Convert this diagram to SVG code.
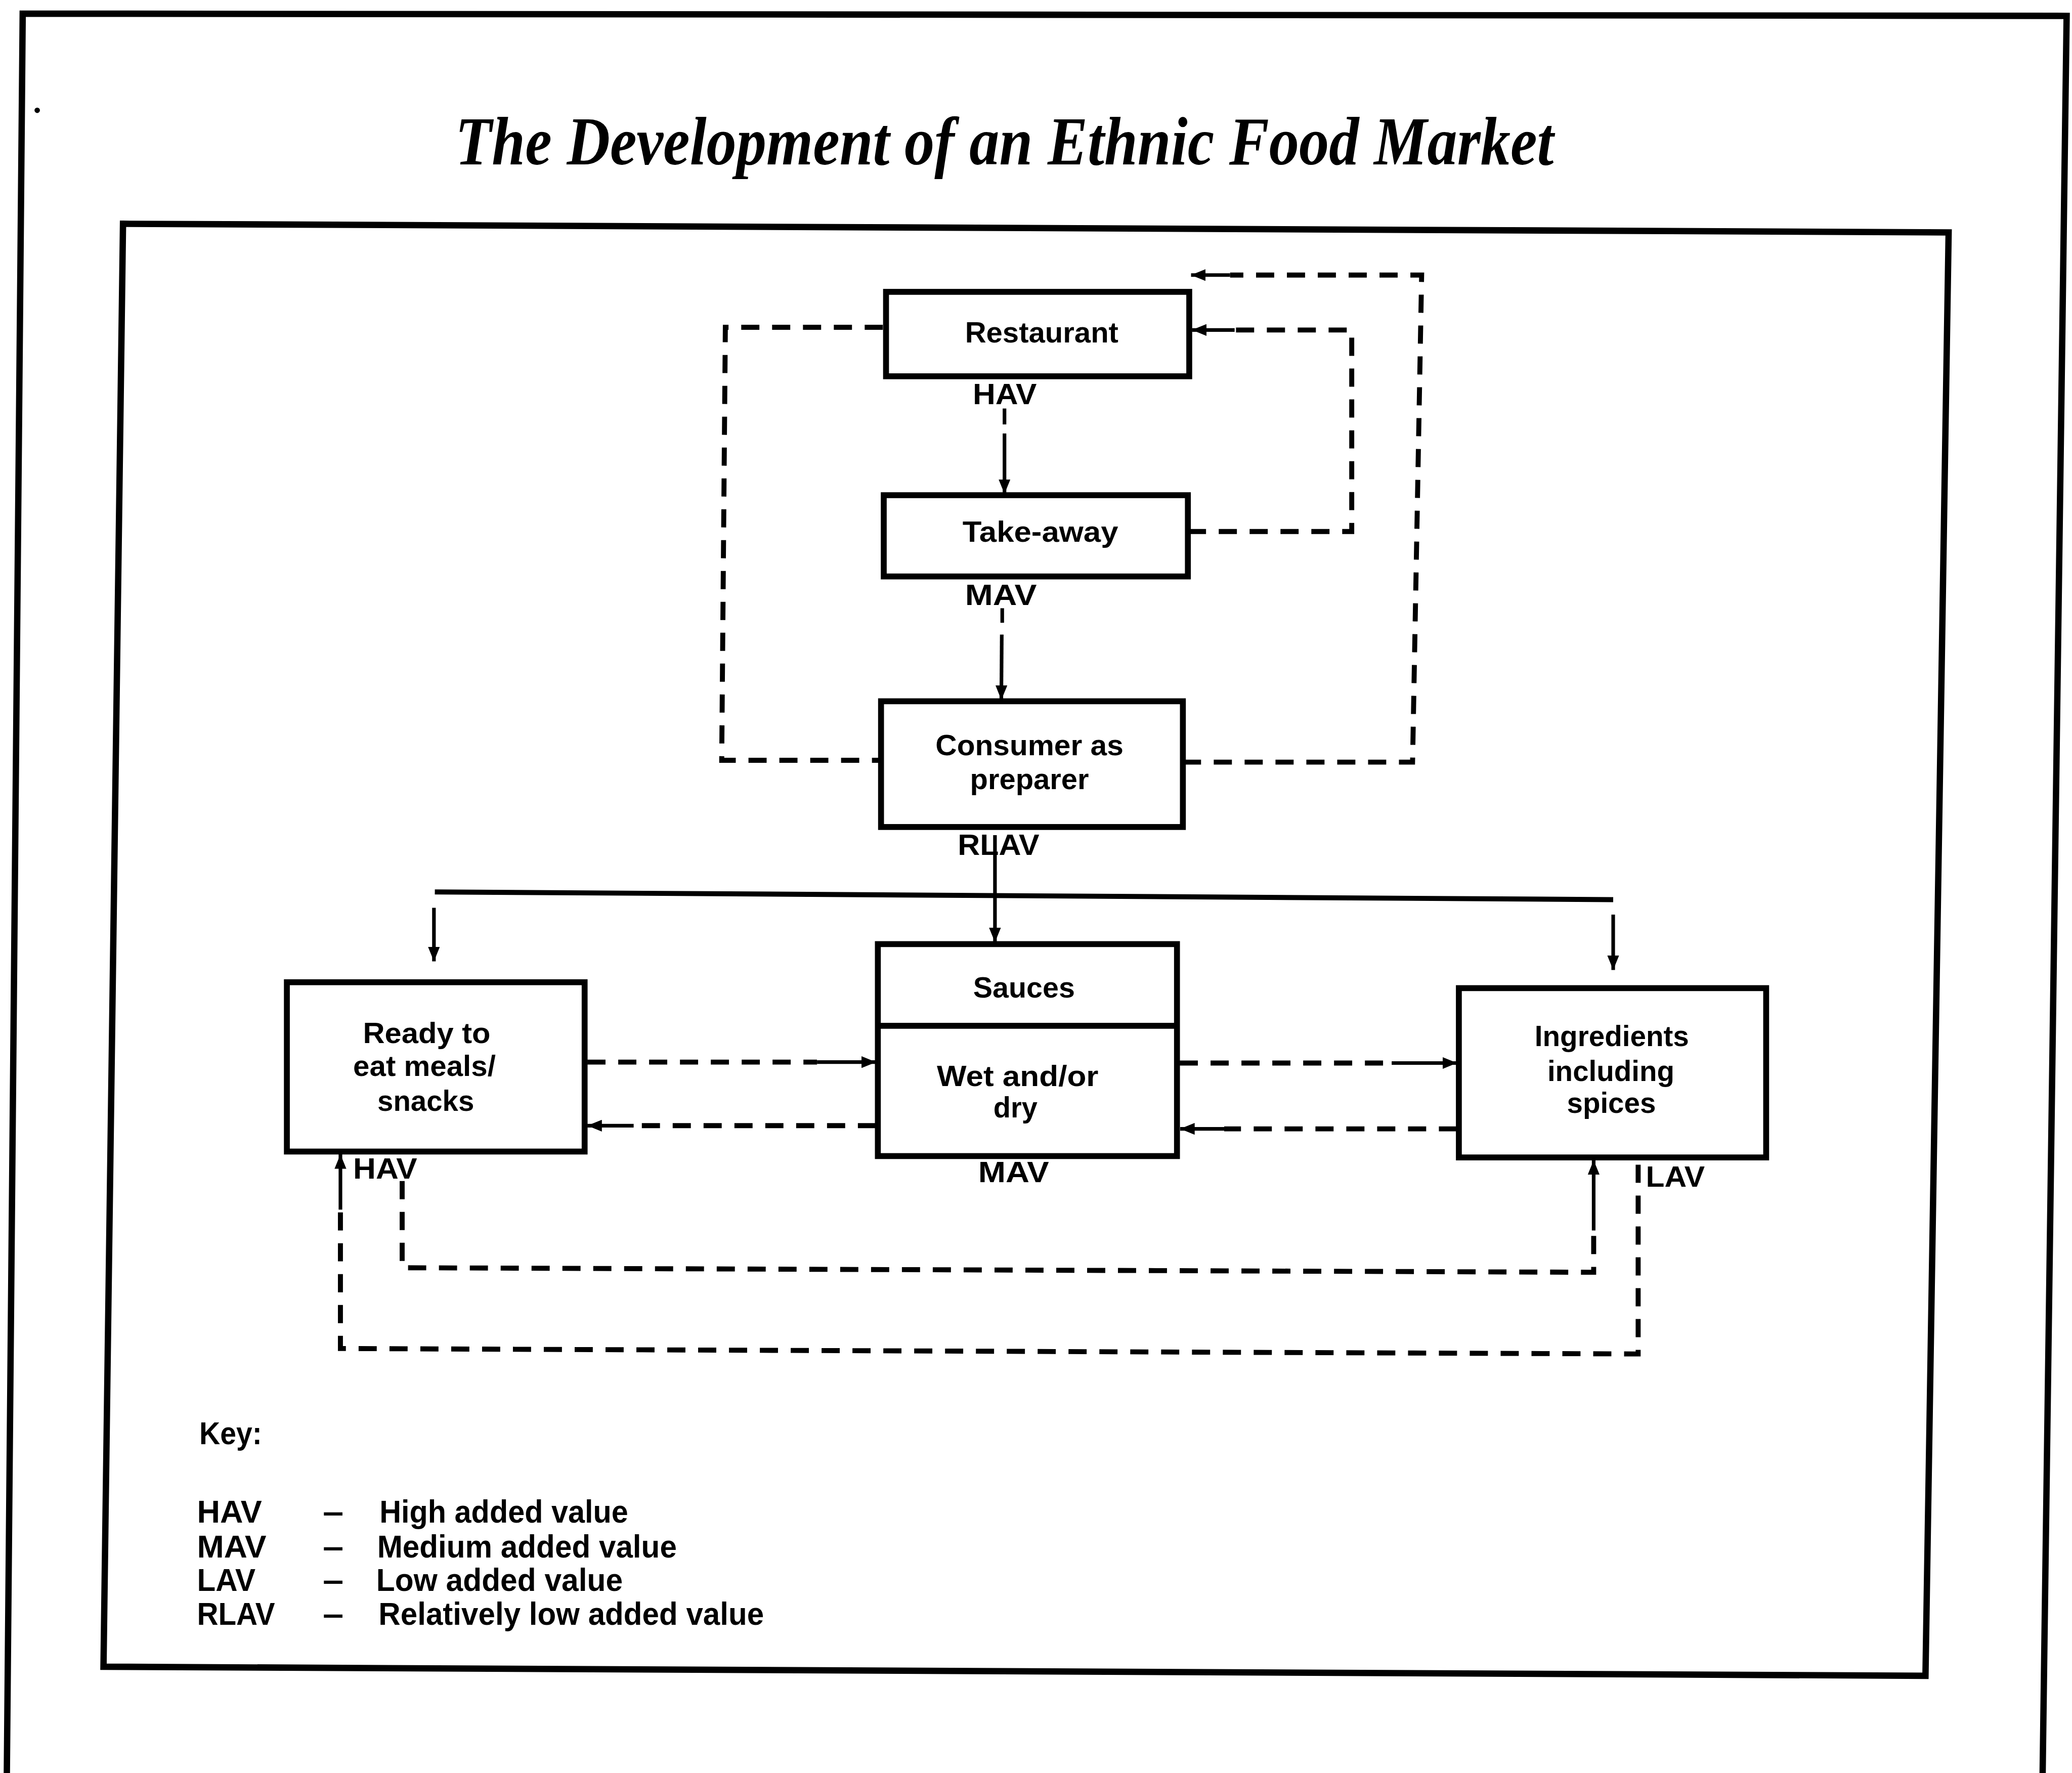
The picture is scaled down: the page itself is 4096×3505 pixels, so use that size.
<svg xmlns="http://www.w3.org/2000/svg" width="4096" height="3505" viewBox="0 0 4096 3505">
  <defs>
    <style>
      .frame { fill: none; stroke: #000; stroke-width: 14; stroke-linejoin: miter; }
      .box { fill: #fff; stroke: #000; stroke-width: 13; }
      .dash { fill: none; stroke: #000; stroke-width: 11; stroke-dasharray: 40 28; }
      .solid { fill: none; stroke: #000; stroke-width: 8; }
      .bus { fill: none; stroke: #000; stroke-width: 11; }
      .lbl { font-family: "Liberation Sans", Arial, sans-serif; font-weight: bold; font-size: 64px; fill: #000; }
      .val { font-family: "Liberation Sans", Arial, sans-serif; font-weight: bold; font-size: 64px; fill: #000; }
      .key { font-family: "Liberation Sans", Arial, sans-serif; font-weight: bold; font-size: 70px; fill: #000; }
      .title { font-family: "Liberation Serif", "Times New Roman", serif; font-style: italic; font-weight: bold; font-size: 150px; fill: #000; }
    </style>
    <marker id="arrow" markerUnits="userSpaceOnUse" markerWidth="32" markerHeight="26" viewBox="0 0 32 26" refX="32" refY="13" orient="auto">
      <path d="M0,0 L32,13 L0,26 z" fill="#000"/>
    </marker>
  </defs>
  <rect x="0" y="0" width="4096" height="3505" fill="#fff"/>
  <g transform="scale(0.8973)">
    <!-- page border (open at the bottom) and inner panel -->
    <path class="frame" d="M15,3915 L50,30 L4553,35 L4500,3915"/>
    <polygon class="frame" points="271,493 4293,512 4242,3692 228,3672"/>
    <circle cx="82" cy="243" r="6" fill="#000"/>

    <text class="title" x="1003" y="362" textLength="2420" lengthAdjust="spacingAndGlyphs">The Development of an Ethnic Food Market</text>

    <!-- connectors -->
    <g id="connectors">
      <!-- left loop: restaurant to consumer -->
      <path class="dash" d="M1945,721 L1598,721 L1590,1675 L1941,1675"/>
      <!-- take-away back to restaurant -->
      <path class="dash" d="M2617,1171 L2978,1171 L2978,727 L2720,727"/>
      <path class="solid" d="M2720,727 L2626,727" marker-end="url(#arrow)"/>
      <!-- consumer back to restaurant -->
      <path class="dash" d="M2606,1679 L3112,1679 L3132,606 L2710,606"/>
      <path class="solid" d="M2710,606 L2624,606" marker-end="url(#arrow)"/>
      <!-- restaurant to take-away -->
      <path class="solid" d="M2213,900 L2213,935"/>
      <path class="solid" d="M2213,955 L2213,1088" marker-end="url(#arrow)"/>
      <!-- take-away to consumer -->
      <path class="solid" d="M2208,1340 L2208,1372"/>
      <path class="solid" d="M2207,1398 L2206,1542" marker-end="url(#arrow)"/>
      <!-- consumer to sauces and distribution bar -->
      <path class="solid" d="M2192,1840 L2192,2076" marker-end="url(#arrow)"/>
      <path class="bus" d="M958,1965 L3554,1982"/>
      <path class="solid" d="M956,2000 L956,2118" marker-end="url(#arrow)"/>
      <path class="solid" d="M3554,2015 L3554,2137" marker-end="url(#arrow)"/>
      <!-- ready meals and sauces -->
      <path class="dash" d="M1294,2340 L1800,2340"/>
      <path class="solid" d="M1800,2340 L1930,2340" marker-end="url(#arrow)"/>
      <path class="dash" d="M1930,2480 L1396,2480"/>
      <path class="solid" d="M1396,2480 L1294,2480" marker-end="url(#arrow)"/>
      <!-- sauces and ingredients -->
      <path class="dash" d="M2599,2342 L3066,2342"/>
      <path class="solid" d="M3066,2342 L3210,2342" marker-end="url(#arrow)"/>
      <path class="dash" d="M3210,2487 L2697,2487"/>
      <path class="solid" d="M2697,2487 L2600,2487" marker-end="url(#arrow)"/>
      <!-- ready meals to ingredients -->
      <path class="dash" d="M886,2602 L886,2793 L3511,2803 L3511,2711"/>
      <path class="solid" d="M3511,2711 L3511,2556" marker-end="url(#arrow)"/>
      <!-- ingredients to ready meals -->
      <path class="dash" d="M3609,2566 L3609,2983 L750,2971 L750,2665"/>
      <path class="solid" d="M750,2665 L750,2543" marker-end="url(#arrow)"/>
    </g>

    <!-- nodes -->
    <g id="restaurant">
      <rect class="box" x="1952" y="643" width="668" height="186"/>
      <text class="lbl" x="2295" y="754" text-anchor="middle" textLength="338" lengthAdjust="spacingAndGlyphs">Restaurant</text>
      <text class="val" x="2143" y="890" textLength="141" lengthAdjust="spacingAndGlyphs">HAV</text>
    </g>
    <g id="take-away">
      <rect class="box" x="1947" y="1091" width="670" height="179"/>
      <text class="lbl" x="2292" y="1194" text-anchor="middle" textLength="343" lengthAdjust="spacingAndGlyphs">Take-away</text>
      <text class="val" x="2126" y="1333" textLength="158" lengthAdjust="spacingAndGlyphs">MAV</text>
    </g>
    <g id="consumer">
      <rect class="box" x="1941" y="1545" width="665" height="277"/>
      <text class="lbl" x="2268" y="1664" text-anchor="middle" textLength="414" lengthAdjust="spacingAndGlyphs">Consumer as</text>
      <text class="lbl" x="2268" y="1738" text-anchor="middle" textLength="262" lengthAdjust="spacingAndGlyphs">preparer</text>
      <text class="val" x="2110" y="1883" textLength="180" lengthAdjust="spacingAndGlyphs">RLAV</text>
    </g>
    <g id="ready-meals">
      <rect class="box" x="632" y="2164" width="656" height="373"/>
      <text class="lbl" x="940" y="2298" text-anchor="middle" textLength="281" lengthAdjust="spacingAndGlyphs">Ready to</text>
      <text class="lbl" x="935" y="2370" text-anchor="middle" textLength="314" lengthAdjust="spacingAndGlyphs">eat meals/</text>
      <text class="lbl" x="938" y="2447" text-anchor="middle" textLength="213" lengthAdjust="spacingAndGlyphs">snacks</text>
      <text class="val" x="778" y="2597" textLength="141" lengthAdjust="spacingAndGlyphs">HAV</text>
    </g>
    <g id="sauces">
      <rect class="box" x="1934" y="2080" width="659" height="467"/>
      <line x1="1934" y1="2260" x2="2593" y2="2260" stroke="#000" stroke-width="13"/>
      <text class="lbl" x="2256" y="2198" text-anchor="middle" textLength="224" lengthAdjust="spacingAndGlyphs">Sauces</text>
      <text class="lbl" x="2242" y="2393" text-anchor="middle" textLength="356" lengthAdjust="spacingAndGlyphs">Wet and/or</text>
      <text class="lbl" x="2237" y="2462" text-anchor="middle" textLength="97" lengthAdjust="spacingAndGlyphs">dry</text>
      <text class="val" x="2155" y="2604" textLength="156" lengthAdjust="spacingAndGlyphs">MAV</text>
    </g>
    <g id="ingredients">
      <rect class="box" x="3214" y="2177" width="677" height="373"/>
      <text class="lbl" x="3551" y="2305" text-anchor="middle" textLength="340" lengthAdjust="spacingAndGlyphs">Ingredients</text>
      <text class="lbl" x="3549" y="2382" text-anchor="middle" textLength="280" lengthAdjust="spacingAndGlyphs">including</text>
      <text class="lbl" x="3550" y="2452" text-anchor="middle" textLength="196" lengthAdjust="spacingAndGlyphs">spices</text>
      <text class="val" x="3626" y="2614" textLength="130" lengthAdjust="spacingAndGlyphs">LAV</text>
    </g>

    <!-- key -->
    <g id="key">
      <text class="key" x="439" y="3182" textLength="138" lengthAdjust="spacingAndGlyphs">Key:</text>
      <text class="key" x="434" y="3354" textLength="143" lengthAdjust="spacingAndGlyphs">HAV</text>
      <text class="key" x="711" y="3354" textLength="46" lengthAdjust="spacingAndGlyphs">–</text>
      <text class="key" x="836" y="3354" textLength="548" lengthAdjust="spacingAndGlyphs">High added value</text>
      <text class="key" x="434" y="3431" textLength="153" lengthAdjust="spacingAndGlyphs">MAV</text>
      <text class="key" x="711" y="3431" textLength="46" lengthAdjust="spacingAndGlyphs">–</text>
      <text class="key" x="831" y="3431" textLength="660" lengthAdjust="spacingAndGlyphs">Medium added value</text>
      <text class="key" x="434" y="3505" textLength="129" lengthAdjust="spacingAndGlyphs">LAV</text>
      <text class="key" x="711" y="3505" textLength="46" lengthAdjust="spacingAndGlyphs">–</text>
      <text class="key" x="829" y="3505" textLength="543" lengthAdjust="spacingAndGlyphs">Low added value</text>
      <text class="key" x="434" y="3580" textLength="172" lengthAdjust="spacingAndGlyphs">RLAV</text>
      <text class="key" x="711" y="3580" textLength="46" lengthAdjust="spacingAndGlyphs">–</text>
      <text class="key" x="834" y="3580" textLength="849" lengthAdjust="spacingAndGlyphs">Relatively low added value</text>
    </g>
  </g>
</svg>
